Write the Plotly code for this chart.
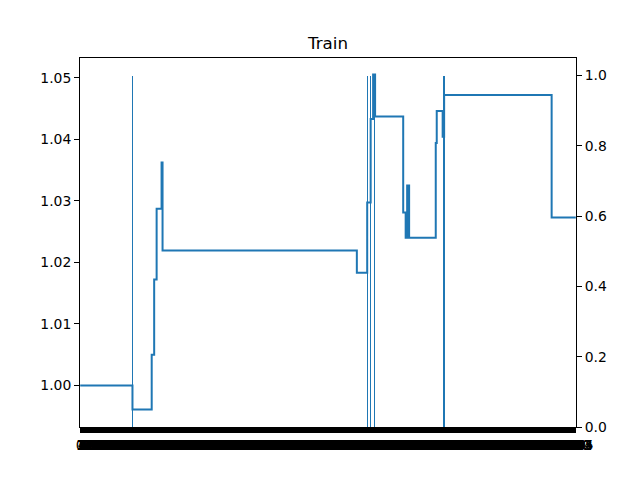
import plotly.graph_objects as go

# Step series: index where each level starts, and the level value
change_idx = [0, 106, 145, 150, 155, 165, 167, 561, 582, 589, 594, 598,
              655, 660, 663, 667, 721, 723, 735, 738, 956, 1005]
levels = [1.0000, 0.9961, 1.0050, 1.0172, 1.0287, 1.0362, 1.0219, 1.0183,
          1.0297, 1.0433, 1.0505, 1.0437, 1.0281, 1.0240, 1.0325, 1.0240,
          1.0394, 1.0446, 1.0404, 1.0472, 1.0273, 1.0273]

# Signal bars (secondary axis)
bar_idx = [106, 582, 589, 597, 738]
bar_val = [1.0, 1.0, 1.0, 1.0, 1.0]

n_points = 1006
x_ticks = list(range(n_points))
x_labels = [str(i) for i in x_ticks]

left_ticks = [1.00, 1.01, 1.02, 1.03, 1.04, 1.05]
right_ticks = [0.0, 0.2, 0.4, 0.6, 0.8, 1.0]

blue = "#1f77b4"
font = "DejaVu Sans"

fig = go.Figure()
fig.add_trace(go.Scatter(x=change_idx, y=levels, mode="lines",
                         line=dict(color=blue, width=2, shape="hv"),
                         showlegend=False, yaxis="y"))
fig.add_trace(go.Bar(x=bar_idx, y=bar_val, width=0.8, marker_color=blue,
                     marker_line_width=0, showlegend=False, yaxis="y2"))

axis_common = dict(showline=True, linecolor="black", linewidth=1.1,
                   ticks="outside", ticklen=4.9, tickwidth=1.1,
                   tickcolor="black", showgrid=False, zeroline=False,
                   tickfont=dict(family=font, size=13.9, color="black"),
                   automargin=False)

fig.update_layout(
    width=640, height=480, autosize=False,
    margin=dict(l=80, r=64, t=58, b=53, pad=0),
    paper_bgcolor="white", plot_bgcolor="white",
    font=dict(family=font, color="black"),
    title=dict(text="Train", x=0.5125, xanchor="center", y=0.898,
               yanchor="bottom", yref="container",
               font=dict(family=font, size=16.7, color="black")),
    xaxis=dict(range=[-0.4, 1005.4], tickmode="array", tickvals=x_ticks,
               ticktext=x_labels, tickangle=0, mirror=True, **axis_common),
    yaxis=dict(range=[0.99324, 1.0532], tickmode="array", tickvals=left_ticks,
               tickformat=".2f", **axis_common),
    yaxis2=dict(range=[0, 1.05], tickmode="array", tickvals=right_ticks,
                tickformat=".1f", overlaying="y", side="right", **axis_common),
    bargap=0,
)

fig.write_html("out.html")
